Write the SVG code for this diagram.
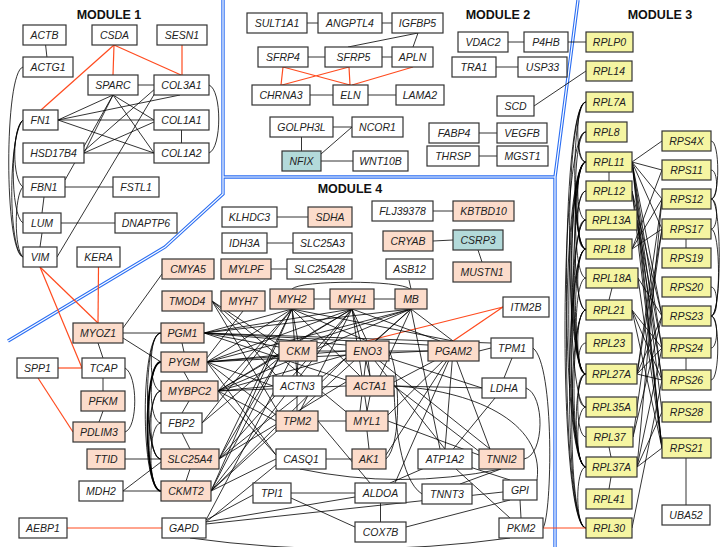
<svg xmlns="http://www.w3.org/2000/svg" width="721" height="547" viewBox="0 0 721 547">
<style>
.n rect{fill:#fff;stroke:#333;stroke-width:1.2}
.n.s rect{fill:#fcdccb}
.n.y rect{fill:#f5f5a2}
.n.t rect{fill:#b3dada}
.n text{font-family:"Liberation Sans",Arial,sans-serif;font-style:italic;font-size:10.5px;text-anchor:middle;fill:#222}
.ttl{font-family:"Liberation Sans",Arial,sans-serif;font-weight:bold;font-size:12.5px;text-anchor:middle;fill:#111}
#edges path{fill:none;stroke:#000;stroke-width:0.8}
#edges path.r{stroke:#ff4b1f;stroke-width:1.2}
#edges path.b{stroke-width:1.8}
.sepo{fill:none;stroke:#2b6ef2;stroke-width:3.4}
.sepi{fill:none;stroke:#fff;stroke-width:1.2}
</style>
<rect width="721" height="547" fill="#fff"/>
<g id="separators">
<path class="sepo" d="M223,0L223,194L165,247L8,341M223,177L555,177M578,0L555,177L555,547"/>
<path class="sepi" d="M223,0L223,194L165,247L8,341M223,177L555,177M578,0L555,177L555,547"/>
</g>
<g id="titles">
<text class="ttl" x="109" y="19">MODULE 1</text>
<text class="ttl" x="498" y="19">MODULE 2</text>
<text class="ttl" x="660" y="19">MODULE 3</text>
<text class="ttl" x="350" y="193">MODULE 4</text>
</g>
<g id="edges">
<!-- module 1 -->
<path d="M44.5,35L48,67"/>
<path d="M113,85L181.5,85"/>
<path d="M181.5,120L181.5,153"/>
<path d="M58,120L180,95"/>
<path d="M58,120L113,95"/>
<path d="M58,120L154,120"/>
<path d="M58,120L154,153"/>
<path d="M113,95L154,120"/>
<path d="M113,95L154,153"/>
<path d="M113,95L84,153"/>
<path d="M113,95L65,180"/>
<path d="M156,88L84,151"/>
<path d="M158,88L57,257"/>
<path d="M84,153L154,153"/>
<path d="M84,153L154,122"/>
<path d="M209,85C222,90 222,148 209,153"/>
<path d="M65,187L113,187"/>
<path d="M44,197L42,213"/>
<path d="M61,223L115,223"/>
<path d="M42,233L40,247"/>
<path d="M23,67C4,72 4,252 23,257"/>
<path d="M23,120C12,128 12,180 23,187"/>
<path d="M23,120C8,135 8,250 23,257"/>
<path d="M23,120C10,130 10,215 23,223"/>
<path d="M23,187C14,195 14,250 23,257"/>
<path class="r" d="M114,45L41,110"/>
<path class="r" d="M114,45L113,75"/>
<path class="r" d="M114,45L181,75"/>
<path class="r" d="M182,45L182,75"/>
<path class="r" d="M40,267L98,323"/>
<path class="r" d="M40,267L82,368"/>
<path class="r" d="M98.5,267L98,323"/>
<path class="r" d="M58,368L82,368"/>
<path class="r" d="M38,378L73,432"/>
<!-- module 2 -->
<path d="M307,23L318,23"/>
<path d="M382,23L392,23"/>
<path d="M418,33L348,47"/>
<path d="M418,33L413,47"/>
<path d="M308,57L325,57"/>
<path d="M382,57L392,57"/>
<path d="M310,95L333,95"/>
<path d="M368,95L396,95"/>
<path class="r" d="M283,67L281,85M283,67L350,85M349,67L282,85M349,67L350,85M413,67L352,85"/>
<path d="M333,127L352,127"/>
<path d="M301.5,137L301.5,151"/>
<path d="M321,154L352,127"/>
<path d="M321,161L353,161"/>
<path d="M508,42L524,42"/>
<path d="M568,42L586,42"/>
<path d="M496,67L518,67"/>
<path d="M534,106L586,71"/>
<path d="M479,133L497,133"/>
<path d="M479,156L497,156"/>
<!-- module 3 left arcs -->
<path d="M586,102C575,102 575,162 586,162"/>
<path d="M586,102C571,102 571,249 586,249"/>
<path d="M586,102C564,102 564,374 586,374"/>
<path d="M586,102C560,102 560,467 586,467"/>
<path d="M586,132C576.5,132 576.5,162 586,162"/>
<path d="M586,132C572,132 572,249 586,249"/>
<path d="M586,132C558,132 558,528 586,528"/>
<path d="M586,162C575,162 575,220 586,220"/>
<path d="M586,162C574,162 574,249 586,249"/>
<path d="M586,162C571,162 571,310 586,310"/>
<path d="M586,162C567,162 567,374 586,374"/>
<path d="M586,162C563,162 563,467 586,467"/>
<path d="M586,162C560,162 560,528 586,528"/>
<path d="M586,162C566,162 566,407 586,407"/>
<path d="M586,162C572,162 572,278 586,278"/>
<path d="M586,191C575,191 575,249 586,249"/>
<path d="M586,191C569,191 569,374 586,374"/>
<path d="M586,220C576.5,220 576.5,249 586,249"/>
<path d="M586,220C570,220 570,374 586,374"/>
<path d="M586,220C566,220 566,467 586,467"/>
<path d="M586,249C575,249 575,310 586,310"/>
<path d="M586,249C572,249 572,374 586,374"/>
<path d="M586,249C567,249 567,467 586,467"/>
<path d="M586,249C564,249 564,528 586,528"/>
<path d="M586,278C573,278 573,374 586,374"/>
<path d="M586,310C575,310 575,374 586,374"/>
<path d="M586,310C570,310 570,467 586,467"/>
<path d="M586,310C567,310 567,528 586,528"/>
<path d="M586,343C576.5,343 576.5,374 586,374"/>
<path d="M586,374C576,374 576,407 586,407"/>
<path d="M586,374C573,374 573,467 586,467"/>
<path d="M586,407C575,407 575,467 586,467"/>
<path d="M586,374C575,374 575,437 586,437"/>
<path d="M586,467C575,467 575,528 586,528"/>
<!-- module 3 straight -->
<path d="M609,172L609,181"/>
<path d="M612,288L609,300"/>
<path d="M609,447L611,457"/>
<path d="M611,477L609,489"/>
<path d="M686,239L686,248"/>
<path d="M686,358L686,370"/>
<path d="M686,458L686,505"/>
<!-- RPL to RPS -->
<path d="M632,162L662,141M632,162L662,170M632,162L662,199M632,162L662,229M632,162L662,448M632,162L662,380M632,162L662,348M632,162L662,316M632,162L662,412"/>
<path d="M632,191L662,316M632,191L662,448M632,191L662,380"/>
<path d="M632,249L662,170M632,249L662,199M632,249L662,229"/>
<path d="M637,220L662,348M637,220L662,448"/>
<path d="M638,278L662,316M638,278L662,448"/>
<path d="M632,310L662,348M632,310L662,380M632,310L662,448"/>
<path d="M637,374L662,316M637,374L662,348M637,374L662,380M637,374L662,199M637,374L662,229"/>
<path d="M633,437L662,316M633,437L662,229"/>
<path d="M637,467L662,348M637,467L662,448M637,467L662,412M637,467L662,199"/>
<path d="M632,528L662,380"/>
<!-- RPS right arcs -->
<path d="M711,141C720,141 720,199 711,199"/>
<path d="M711,170C718.5,170 718.5,199 711,199"/>
<path d="M711,199C718.5,199 718.5,229 711,229"/>
<path d="M711,199C722,199 722,316 711,316"/>
<path d="M711,229C721,229 721,316 711,316"/>
<path d="M711,287C718.5,287 718.5,316 711,316"/>
<path d="M711,316C718.5,316 718.5,348 711,348"/>
<path d="M711,316C720,316 720,380 711,380"/>
<!-- module 4 small -->
<path d="M277,217L308,217"/>
<path d="M267,243L293,243"/>
<path d="M271,269L287,269"/>
<path d="M433,211L453,211"/>
<path d="M433,241L453,240"/>
<path d="M478,250L482,262"/>
<path d="M411,289L409,280"/>
<path d="M292,289C300,280 400,280 410,289"/>
<path d="M314,299L330,299"/>
<path d="M374,299L395,299"/>
<path class="r" d="M367,341L503,307M453,341L503,307"/>
<!-- module 4 left side -->
<path d="M123,333L161,333"/>
<path d="M123,338L161,362"/>
<path d="M123,328L162,274"/>
<path d="M98,343L103,358"/>
<path d="M103,378L103,391"/>
<path d="M103,411L99,422"/>
<path d="M125,368C138,375 138,428 125,432"/>
<path d="M125,459L161,459"/>
<path d="M123,491L161,462"/>
<path d="M123,491L161,491"/>
<path class="r" d="M67,528L162,528"/>
<path d="M161,333C148,333 148,391 161,391"/>
<path d="M161,333C140,333 140,491 161,491"/>
<path d="M161,333C143,333 143,459 161,459"/>
<path d="M161,362C145,362 145,459 161,459"/>
<path class="b" d="M161,362C143,362 143,491 161,491"/>
<path d="M161,362C148,362 148,423 161,423"/>
<path d="M161,391C147.5,391 147.5,459 161,459"/>
<path d="M161,391C145,391 145,491 161,491"/>
<path d="M161,423C147.5,423 147.5,491 161,491"/>
<path d="M182,343L184,352"/>
<path d="M184,372L189,381"/>
<path d="M189,401L182,413"/>
<path d="M182,433L190,449"/>
<path d="M190,469L186,481"/>
<!-- hubs to top row -->
<path d="M204,333L292,309M204,333L352,309M204,333L411,309"/>
<path d="M207,362L292,309M207,362L352,309M207,362L411,309"/>
<path d="M218,391L292,309M218,391L352,309M218,391L411,309"/>
<path d="M219,459L292,309M219,459L352,309"/>
<path d="M211,491L292,309M211,491L352,309M211,491L411,309"/>
<!-- hubs to middle -->
<path d="M204,333L346,345M204,333L428,345M204,333L279,347M204,333L346,380M204,333L491,343"/>
<path d="M207,362L279,355M207,362L346,351M207,362L428,351M207,362L273,386M207,362L276,415M207,362L276,455"/>
<path d="M218,391L273,386M218,391L276,421M218,391L276,455M218,391L346,355M218,391L279,355M218,391L346,386"/>
<path d="M219,459L279,358M219,459L346,358M219,459L346,382"/>
<path d="M211,491L279,358M211,491L346,358M211,491L276,459"/>
<path d="M202,423L279,358M202,423L292,309"/>
<path d="M212,301L279,345M212,301L280,380M212,301L350,415M212,301L280,415"/>
<path d="M243,311L207,358"/>
<!-- top row to middle -->
<path d="M292,309L298,341M292,309L367,341M292,309L453,341M292,309L297,376M292,309L360,376"/>
<path d="M352,309L298,341M352,309L367,341M352,309L440,341M352,309L370,376M352,309L367,411M352,309L300,411"/>
<path d="M411,309L310,341M411,309L375,341M411,309L453,341M411,309L380,376M411,309L440,449"/>
<!-- middle -->
<path d="M317,351L346,351"/>
<path d="M389,351L428,351"/>
<path d="M479,351L491,348"/>
<path d="M512,358L504,378"/>
<path d="M298,361L297,376"/>
<path d="M297,396L297,411"/>
<path d="M370,396L367,411"/>
<path d="M367,431L369,449"/>
<path d="M318,421L346,421"/>
<path d="M326,459L352,459"/>
<path d="M367,351L370,376M367,351L360,411M367,351L482,388M367,351L490,449M367,351L445,449"/>
<path d="M453,351L394,382M453,351L388,415M453,351L386,455M453,351L445,449M453,351L490,449M453,351L395,483"/>
<path d="M394,386L482,388M394,386L480,452"/>
<path d="M388,421L479,455"/>
<path d="M318,421L370,483"/>
<path d="M445,459L495,398M445,459L510,480M445,459L390,483M445,459L510,518"/>
<path d="M501,469L460,484"/>
<path d="M291,493L355,493"/>
<path d="M291,498L355,527"/>
<path d="M380.5,503L380.5,522"/>
<path d="M406,527L510,500"/>
<path d="M520,500L521,518"/>
<path d="M206,520L253,495M206,522L355,497M206,524L503,492M206,520L290,361M206,522L276,465"/>
<path d="M190,538Q350,560 510,538"/>
<path d="M300,469Q400,490 501,469"/>
<path d="M526,388C545,395 545,455 524,459"/>
<path d="M533,348C555,365 552,515 543,528"/>
<path d="M394,386C470,390 545,420 537,480"/>
<path d="M386,459C402,445 400,370 389,351"/>
<path d="M422,494C400,480 395,420 394,390"/>
<path class="r" d="M543,528L586,528"/>
</g>
<g id="nodes">
<g id="n-ACTB" class="n"><rect x="23" y="25" width="43" height="20"/><text x="44.5" y="39">ACTB</text></g>
<g id="n-CSDA" class="n"><rect x="92" y="25" width="45" height="20"/><text x="114.5" y="39">CSDA</text></g>
<g id="n-SESN1" class="n"><rect x="157" y="25" width="50" height="20"/><text x="182" y="39">SESN1</text></g>
<g id="n-ACTG1" class="n"><rect x="23" y="57" width="50" height="20"/><text x="48" y="71">ACTG1</text></g>
<g id="n-SPARC" class="n"><rect x="88" y="75" width="50" height="20"/><text x="113" y="89">SPARC</text></g>
<g id="n-COL3A1" class="n"><rect x="154" y="75" width="55" height="20"/><text x="181.5" y="89">COL3A1</text></g>
<g id="n-FN1" class="n"><rect x="23" y="110" width="35" height="20"/><text x="40.5" y="124">FN1</text></g>
<g id="n-COL1A1" class="n"><rect x="154" y="110" width="55" height="20"/><text x="181.5" y="124">COL1A1</text></g>
<g id="n-HSD17B4" class="n"><rect x="23" y="143" width="61" height="20"/><text x="53.5" y="157">HSD17B4</text></g>
<g id="n-COL1A2" class="n"><rect x="154" y="143" width="55" height="20"/><text x="181.5" y="157">COL1A2</text></g>
<g id="n-FBN1" class="n"><rect x="23" y="177" width="42" height="20"/><text x="44" y="191">FBN1</text></g>
<g id="n-FSTL1" class="n"><rect x="113" y="177" width="46" height="20"/><text x="136" y="191">FSTL1</text></g>
<g id="n-LUM" class="n"><rect x="23" y="213" width="38" height="20"/><text x="42" y="227">LUM</text></g>
<g id="n-DNAPTP6" class="n"><rect x="115" y="213" width="62" height="20"/><text x="146" y="227">DNAPTP6</text></g>
<g id="n-VIM" class="n"><rect x="23" y="247" width="34" height="20"/><text x="40" y="261">VIM</text></g>
<g id="n-KERA" class="n"><rect x="77" y="247" width="43" height="20"/><text x="98.5" y="261">KERA</text></g>

<g id="n-SULT1A1" class="n"><rect x="247" y="13" width="60" height="20"/><text x="277" y="27">SULT1A1</text></g>
<g id="n-ANGPTL4" class="n"><rect x="318" y="13" width="64" height="20"/><text x="350" y="27">ANGPTL4</text></g>
<g id="n-IGFBP5" class="n"><rect x="392" y="13" width="51" height="20"/><text x="417.5" y="27">IGFBP5</text></g>
<g id="n-SFRP4" class="n"><rect x="258" y="47" width="50" height="20"/><text x="283" y="61">SFRP4</text></g>
<g id="n-SFRP5" class="n"><rect x="325" y="47" width="57" height="20"/><text x="353.5" y="61">SFRP5</text></g>
<g id="n-APLN" class="n"><rect x="392" y="47" width="41" height="20"/><text x="412.5" y="61">APLN</text></g>
<g id="n-CHRNA3" class="n"><rect x="252" y="85" width="58" height="20"/><text x="281" y="99">CHRNA3</text></g>
<g id="n-ELN" class="n"><rect x="333" y="85" width="35" height="20"/><text x="350.5" y="99">ELN</text></g>
<g id="n-LAMA2" class="n"><rect x="396" y="85" width="48" height="20"/><text x="420" y="99">LAMA2</text></g>
<g id="n-GOLPH3L" class="n"><rect x="270" y="117" width="63" height="20"/><text x="301.5" y="131">GOLPH3L</text></g>
<g id="n-NCOR1" class="n"><rect x="352" y="117" width="51" height="20"/><text x="377.5" y="131">NCOR1</text></g>
<g id="n-NFIX" class="n t"><rect x="282" y="151" width="39" height="20"/><text x="301.5" y="165">NFIX</text></g>
<g id="n-WNT10B" class="n"><rect x="353" y="151" width="55" height="20"/><text x="380.5" y="165">WNT10B</text></g>
<g id="n-VDAC2" class="n"><rect x="458" y="32" width="50" height="20"/><text x="483" y="46">VDAC2</text></g>
<g id="n-P4HB" class="n"><rect x="524" y="32" width="44" height="20"/><text x="546" y="46">P4HB</text></g>
<g id="n-TRA1" class="n"><rect x="452" y="57" width="44" height="20"/><text x="474" y="71">TRA1</text></g>
<g id="n-USP33" class="n"><rect x="518" y="57" width="49" height="20"/><text x="542.5" y="71">USP33</text></g>
<g id="n-SCD" class="n"><rect x="497" y="96" width="37" height="20"/><text x="515.5" y="110">SCD</text></g>
<g id="n-FABP4" class="n"><rect x="429" y="123" width="50" height="20"/><text x="454" y="137">FABP4</text></g>
<g id="n-VEGFB" class="n"><rect x="497" y="123" width="50" height="20"/><text x="522" y="137">VEGFB</text></g>
<g id="n-THRSP" class="n"><rect x="427" y="146" width="52" height="20"/><text x="453" y="160">THRSP</text></g>
<g id="n-MGST1" class="n"><rect x="497" y="146" width="51" height="20"/><text x="522.5" y="160">MGST1</text></g>

<g id="n-RPLP0" class="n y"><rect x="586" y="32" width="47" height="20"/><text x="609.5" y="46">RPLP0</text></g>
<g id="n-RPL14" class="n y"><rect x="586" y="61" width="46" height="20"/><text x="609" y="75">RPL14</text></g>
<g id="n-RPL7A" class="n y"><rect x="586" y="92" width="47" height="20"/><text x="609.5" y="106">RPL7A</text></g>
<g id="n-RPL8" class="n y"><rect x="586" y="122" width="41" height="20"/><text x="606.5" y="136">RPL8</text></g>
<g id="n-RPL11" class="n y"><rect x="586" y="152" width="46" height="20"/><text x="609" y="166">RPL11</text></g>
<g id="n-RPL12" class="n y"><rect x="586" y="181" width="46" height="20"/><text x="609" y="195">RPL12</text></g>
<g id="n-RPL13A" class="n y"><rect x="586" y="210" width="51" height="20"/><text x="611.5" y="224">RPL13A</text></g>
<g id="n-RPL18" class="n y"><rect x="586" y="239" width="46" height="20"/><text x="609" y="253">RPL18</text></g>
<g id="n-RPL18A" class="n y"><rect x="586" y="268" width="52" height="20"/><text x="612" y="282">RPL18A</text></g>
<g id="n-RPL21" class="n y"><rect x="586" y="300" width="46" height="20"/><text x="609" y="314">RPL21</text></g>
<g id="n-RPL23" class="n y"><rect x="586" y="333" width="46" height="20"/><text x="609" y="347">RPL23</text></g>
<g id="n-RPL27A" class="n y"><rect x="586" y="364" width="51" height="20"/><text x="611.5" y="378">RPL27A</text></g>
<g id="n-RPL35A" class="n y"><rect x="586" y="397" width="51" height="20"/><text x="611.5" y="411">RPL35A</text></g>
<g id="n-RPL37" class="n y"><rect x="586" y="427" width="47" height="20"/><text x="609.5" y="441">RPL37</text></g>
<g id="n-RPL37A" class="n y"><rect x="586" y="457" width="51" height="20"/><text x="611.5" y="471">RPL37A</text></g>
<g id="n-RPL41" class="n y"><rect x="586" y="489" width="46" height="20"/><text x="609" y="503">RPL41</text></g>
<g id="n-RPL30" class="n y"><rect x="586" y="518" width="46" height="20"/><text x="609" y="532">RPL30</text></g>
<g id="n-RPS4X" class="n y"><rect x="662" y="131" width="49" height="20"/><text x="686.5" y="145">RPS4X</text></g>
<g id="n-RPS11" class="n y"><rect x="662" y="160" width="49" height="20"/><text x="686.5" y="174">RPS11</text></g>
<g id="n-RPS12" class="n y"><rect x="662" y="189" width="49" height="20"/><text x="686.5" y="203">RPS12</text></g>
<g id="n-RPS17" class="n y"><rect x="662" y="219" width="49" height="20"/><text x="686.5" y="233">RPS17</text></g>
<g id="n-RPS19" class="n y"><rect x="662" y="248" width="49" height="20"/><text x="686.5" y="262">RPS19</text></g>
<g id="n-RPS20" class="n y"><rect x="662" y="277" width="49" height="20"/><text x="686.5" y="291">RPS20</text></g>
<g id="n-RPS23" class="n y"><rect x="662" y="306" width="49" height="20"/><text x="686.5" y="320">RPS23</text></g>
<g id="n-RPS24" class="n y"><rect x="662" y="338" width="49" height="20"/><text x="686.5" y="352">RPS24</text></g>
<g id="n-RPS26" class="n y"><rect x="662" y="370" width="49" height="20"/><text x="686.5" y="384">RPS26</text></g>
<g id="n-RPS28" class="n y"><rect x="662" y="402" width="49" height="20"/><text x="686.5" y="416">RPS28</text></g>
<g id="n-RPS21" class="n y"><rect x="662" y="438" width="49" height="20"/><text x="686.5" y="452">RPS21</text></g>
<g id="n-UBA52" class="n"><rect x="662" y="505" width="48" height="20"/><text x="686" y="519">UBA52</text></g>

<g id="n-KLHDC3" class="n"><rect x="222" y="207" width="55" height="20"/><text x="249.5" y="221">KLHDC3</text></g>
<g id="n-SDHA" class="n s"><rect x="308" y="207" width="44" height="20"/><text x="330" y="221">SDHA</text></g>
<g id="n-IDH3A" class="n"><rect x="222" y="233" width="45" height="20"/><text x="244.5" y="247">IDH3A</text></g>
<g id="n-SLC25A3" class="n"><rect x="293" y="233" width="59" height="20"/><text x="322.5" y="247">SLC25A3</text></g>
<g id="n-MYLPF" class="n s"><rect x="221" y="259" width="50" height="20"/><text x="246" y="273">MYLPF</text></g>
<g id="n-SLC25A28" class="n"><rect x="287" y="259" width="65" height="20"/><text x="319.5" y="273">SLC25A28</text></g>
<g id="n-FLJ39378" class="n"><rect x="372" y="201" width="61" height="20"/><text x="402.5" y="215">FLJ39378</text></g>
<g id="n-KBTBD10" class="n s"><rect x="453" y="201" width="61" height="20"/><text x="483.5" y="215">KBTBD10</text></g>
<g id="n-CRYAB" class="n s"><rect x="383" y="231" width="50" height="20"/><text x="408" y="245">CRYAB</text></g>
<g id="n-CSRP3" class="n t"><rect x="453" y="230" width="50" height="20"/><text x="478" y="244">CSRP3</text></g>
<g id="n-MUSTN1" class="n s"><rect x="453" y="262" width="58" height="20"/><text x="482" y="276">MUSTN1</text></g>
<g id="n-ASB12" class="n"><rect x="386" y="259" width="47" height="20"/><text x="409.5" y="273">ASB12</text></g>
<g id="n-CMYA5" class="n s"><rect x="162" y="259" width="52" height="20"/><text x="188" y="273">CMYA5</text></g>
<g id="n-TMOD4" class="n s"><rect x="162" y="291" width="50" height="20"/><text x="187" y="305">TMOD4</text></g>
<g id="n-MYH7" class="n s"><rect x="221" y="291" width="44" height="20"/><text x="243" y="305">MYH7</text></g>
<g id="n-MYH2" class="n s"><rect x="270" y="289" width="44" height="20"/><text x="292" y="303">MYH2</text></g>
<g id="n-MYH1" class="n s"><rect x="330" y="289" width="44" height="20"/><text x="352" y="303">MYH1</text></g>
<g id="n-MB" class="n s"><rect x="395" y="289" width="32" height="20"/><text x="411" y="303">MB</text></g>
<g id="n-ITM2B" class="n"><rect x="503" y="297" width="46" height="20"/><text x="526" y="311">ITM2B</text></g>
<g id="n-MYOZ1" class="n s"><rect x="73" y="323" width="50" height="20"/><text x="98" y="337">MYOZ1</text></g>
<g id="n-PGM1" class="n s"><rect x="161" y="323" width="43" height="20"/><text x="182.5" y="337">PGM1</text></g>
<g id="n-PYGM" class="n s"><rect x="161" y="352" width="46" height="20"/><text x="184" y="366">PYGM</text></g>
<g id="n-SPP1" class="n"><rect x="17" y="358" width="41" height="20"/><text x="37.5" y="372">SPP1</text></g>
<g id="n-TCAP" class="n"><rect x="82" y="358" width="43" height="20"/><text x="103.5" y="372">TCAP</text></g>
<g id="n-MYBPC2" class="n s"><rect x="161" y="381" width="57" height="20"/><text x="189.5" y="395">MYBPC2</text></g>
<g id="n-PFKM" class="n s"><rect x="81" y="391" width="44" height="20"/><text x="103" y="405">PFKM</text></g>
<g id="n-FBP2" class="n"><rect x="161" y="413" width="41" height="20"/><text x="181.5" y="427">FBP2</text></g>
<g id="n-PDLIM3" class="n s"><rect x="73" y="422" width="52" height="20"/><text x="99" y="436">PDLIM3</text></g>
<g id="n-TTID" class="n s"><rect x="87" y="449" width="38" height="20"/><text x="106" y="463">TTID</text></g>
<g id="n-SLC25A4" class="n s"><rect x="161" y="449" width="58" height="20"/><text x="190" y="463">SLC25A4</text></g>
<g id="n-MDH2" class="n"><rect x="79" y="481" width="44" height="20"/><text x="101" y="495">MDH2</text></g>
<g id="n-CKMT2" class="n s"><rect x="161" y="481" width="50" height="20"/><text x="186" y="495">CKMT2</text></g>
<g id="n-AEBP1" class="n"><rect x="19" y="518" width="48" height="20"/><text x="43" y="532">AEBP1</text></g>
<g id="n-GAPD" class="n"><rect x="162" y="518" width="44" height="20"/><text x="184" y="532">GAPD</text></g>
<g id="n-CKM" class="n s"><rect x="279" y="341" width="38" height="20"/><text x="298" y="355">CKM</text></g>
<g id="n-ENO3" class="n s"><rect x="346" y="341" width="43" height="20"/><text x="367.5" y="355">ENO3</text></g>
<g id="n-PGAM2" class="n s"><rect x="428" y="341" width="51" height="20"/><text x="453.5" y="355">PGAM2</text></g>
<g id="n-TPM1" class="n"><rect x="491" y="338" width="42" height="20"/><text x="512" y="352">TPM1</text></g>
<g id="n-ACTN3" class="n"><rect x="273" y="376" width="49" height="20"/><text x="297.5" y="390">ACTN3</text></g>
<g id="n-ACTA1" class="n s"><rect x="346" y="376" width="48" height="20"/><text x="370" y="390">ACTA1</text></g>
<g id="n-LDHA" class="n"><rect x="482" y="378" width="44" height="20"/><text x="504" y="392">LDHA</text></g>
<g id="n-TPM2" class="n s"><rect x="276" y="411" width="42" height="20"/><text x="297" y="425">TPM2</text></g>
<g id="n-MYL1" class="n s"><rect x="346" y="411" width="42" height="20"/><text x="367" y="425">MYL1</text></g>
<g id="n-CASQ1" class="n"><rect x="276" y="449" width="50" height="20"/><text x="301" y="463">CASQ1</text></g>
<g id="n-AK1" class="n s"><rect x="352" y="449" width="34" height="20"/><text x="369" y="463">AK1</text></g>
<g id="n-ATP1A2" class="n"><rect x="418" y="449" width="54" height="20"/><text x="445" y="463">ATP1A2</text></g>
<g id="n-TNNI2" class="n s"><rect x="479" y="449" width="45" height="20"/><text x="501.5" y="463">TNNI2</text></g>
<g id="n-TPI1" class="n"><rect x="253" y="483" width="38" height="20"/><text x="272" y="497">TPI1</text></g>
<g id="n-ALDOA" class="n"><rect x="355" y="483" width="51" height="20"/><text x="380.5" y="497">ALDOA</text></g>
<g id="n-TNNT3" class="n"><rect x="422" y="484" width="50" height="20"/><text x="447" y="498">TNNT3</text></g>
<g id="n-GPI" class="n"><rect x="503" y="480" width="34" height="20"/><text x="520" y="494">GPI</text></g>
<g id="n-COX7B" class="n"><rect x="355" y="522" width="51" height="20"/><text x="380.5" y="536">COX7B</text></g>
<g id="n-PKM2" class="n"><rect x="499" y="518" width="44" height="20"/><text x="521" y="532">PKM2</text></g>
</g>
</svg>
